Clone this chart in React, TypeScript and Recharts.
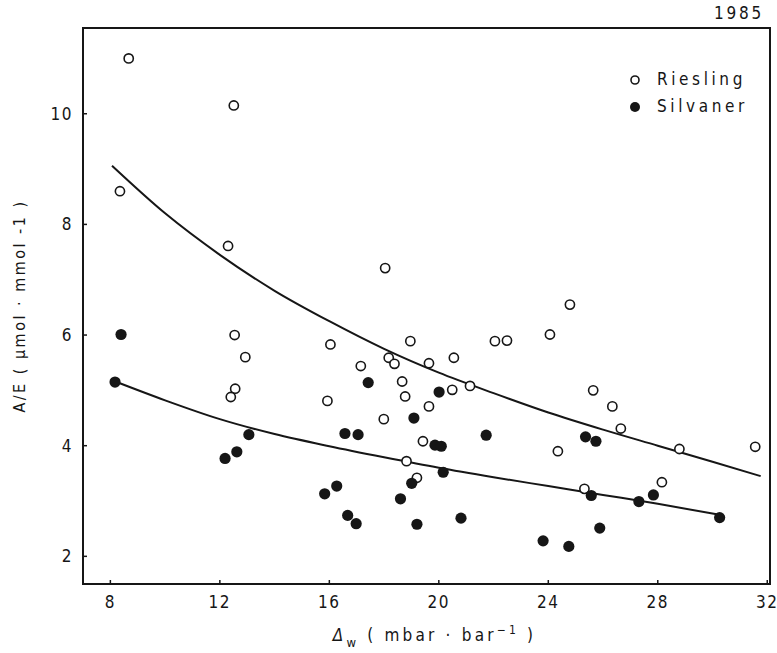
import React from "react";
import {
  ComposedChart,
  Scatter,
  Line,
  XAxis,
  YAxis,
  ReferenceArea,
  Legend,
} from "recharts";

// Riesling (open circles)
const rieslingX = [8.67, 12.51, 8.35, 12.3, 18.04, 12.54, 12.93, 12.56, 12.4, 16.04, 18.96, 22.05, 22.49, 18.17, 18.38, 17.15, 19.64, 20.55, 18.66, 20.49, 21.14, 18.77, 15.93, 19.64, 17.99, 19.42, 18.82, 19.2, 24.79, 24.06, 25.64, 26.34, 26.65, 28.79, 31.56, 24.35, 28.15, 25.32];
const rieslingY = [11.0, 10.15, 8.6, 7.61, 7.21, 6.0, 5.6, 5.03, 4.88, 5.83, 5.89, 5.89, 5.9, 5.59, 5.48, 5.44, 5.49, 5.59, 5.16, 5.01, 5.08, 4.89, 4.81, 4.71, 4.48, 4.08, 3.72, 3.42, 6.55, 6.01, 5.0, 4.71, 4.31, 3.94, 3.98, 3.9, 3.34, 3.22];

// Silvaner (filled circles)
const silvanerX = [8.39, 8.17, 13.06, 12.62, 12.19, 17.42, 20.01, 19.09, 16.57, 17.05, 21.73, 19.86, 20.09, 20.16, 19.01, 16.27, 15.83, 18.6, 16.67, 16.98, 19.2, 20.81, 25.36, 25.74, 25.57, 27.31, 27.84, 30.26, 25.88, 23.81, 24.75];
const silvanerY = [6.01, 5.15, 4.2, 3.89, 3.77, 5.14, 4.97, 4.5, 4.22, 4.2, 4.19, 4.01, 3.99, 3.52, 3.32, 3.27, 3.13, 3.04, 2.74, 2.59, 2.58, 2.69, 4.16, 4.08, 3.1, 2.99, 3.11, 2.7, 2.51, 2.28, 2.18];

// Fitted curves
const rieslingCurveX = [8.06, 10, 12, 14, 16, 18, 20, 22, 24, 26, 28, 30, 31.76];
const rieslingCurveY = [9.06, 8.2, 7.45, 6.8, 6.25, 5.75, 5.32, 4.95, 4.6, 4.29, 4.0, 3.71, 3.45];
const silvanerCurveX = [8.18, 10, 12, 14, 16, 18, 20, 22, 24, 26, 28, 30.26];
const silvanerCurveY = [5.16, 4.82, 4.48, 4.21, 3.99, 3.79, 3.6, 3.43, 3.27, 3.11, 2.95, 2.75];

const xTicks = [8, 12, 16, 20, 24, 28, 32];
const yTicks = [2, 4, 6, 8, 10];

const zip = (xs: number[], ys: number[]) => xs.map((x, i) => ({ x, y: ys[i] }));
const riesling = zip(rieslingX, rieslingY);
const silvaner = zip(silvanerX, silvanerY);
const rieslingCurve = zip(rieslingCurveX, rieslingCurveY);
const silvanerCurve = zip(silvanerCurveX, silvanerCurveY);

const INK = "#161616";
const FONT = "'DejaVu Sans Condensed', 'Liberation Sans Narrow', 'DejaVu Sans', sans-serif";

const OpenDot = (p: any) => (
  <circle cx={p.cx} cy={p.cy} r={4.6} fill="#fff" stroke={INK} strokeWidth={1.6} />
);
const FilledDot = (p: any) => (
  <circle cx={p.cx} cy={p.cy} r={5.6} fill={INK} stroke="none" />
);

const YTick = (p: any) => {
  const { x, y, payload } = p;
  return (
    <g>
      <line x1={x + 9} x2={x + 13} y1={y} y2={y} stroke={INK} strokeWidth={1.5} />
      <text x={x - 1} y={y + 6} textAnchor="end" fontFamily={FONT} fontSize={17} fill={INK} style={{ letterSpacing: 1.5 }}>
        {payload.value}
      </text>
    </g>
  );
};

const XTick = (p: any) => {
  const { x, y, payload } = p;
  return (
    <g>
      <line x1={x} x2={x} y1={y - 9} y2={y - 13} stroke={INK} strokeWidth={1.5} />
      <text x={x} y={y + 15} textAnchor="middle" fontFamily={FONT} fontSize={17} fill={INK} style={{ letterSpacing: 1.5 }}>
        {payload.value}
      </text>
    </g>
  );
};

const XLabel = (p: any) => {
  const vb = p.viewBox || { x: 83, y: 584, width: 687 };
  const cx = vb.x + vb.width / 2 + 8;
  const y = vb.y + 57;
  return (
    <text x={cx} y={y} textAnchor="middle" fontFamily={FONT} fontSize={17} fill={INK} style={{ letterSpacing: 3.2 }}>
      <tspan fontStyle="italic">Δ</tspan>
      <tspan dy={6} fontSize={13}>w</tspan>
      <tspan dy={-6}> ( mbar · bar</tspan>
      <tspan dy={-7} fontSize={12}>−1</tspan>
      <tspan dy={7}> )</tspan>
    </text>
  );
};

const YLabel = (p: any) => {
  const vb = p.viewBox || { x: 23, y: 28, height: 556 };
  const cx = 20;
  const cy = vb.y + vb.height / 2;
  return (
    <text x={cx} y={cy} transform={`rotate(-90, ${cx}, ${cy})`} textAnchor="middle" dominantBaseline="middle" fontFamily={FONT} fontSize={16} fill={INK} style={{ letterSpacing: 2.5 }}>
      A/E ( µmol · mmol -1 )
    </text>
  );
};

const LegendContent = () => (
  <div style={{ fontFamily: FONT, fontSize: 17, color: INK, letterSpacing: 3.6, lineHeight: "27px", textAlign: "left" }}>
    <div style={{ display: "flex", alignItems: "center" }}>
      <svg width={29} height={14}><circle cx={7} cy={7} r={4} fill="#fff" stroke={INK} strokeWidth={1.6} /></svg>
      <span>Riesling</span>
    </div>
    <div style={{ display: "flex", alignItems: "center" }}>
      <svg width={29} height={14}><circle cx={7} cy={7} r={5} fill={INK} /></svg>
      <span>Silvaner</span>
    </div>
  </div>
);

export default function App() {
  return (
    <div style={{ position: "absolute", left: 0, top: 0, width: 777, height: 653, background: "#fff" }}>
      <div style={{ position: "absolute", left: 714, top: 3, fontFamily: FONT, fontSize: 17, color: INK, letterSpacing: 2.8 }}>
        1985
      </div>
      <ComposedChart width={777} height={653} margin={{ top: 28, right: 7, bottom: 39, left: 23 }}>
        <XAxis
          dataKey="x"
          type="number"
          domain={[7, 32.1]}
          ticks={xTicks}
          allowDataOverflow
          height={30}
          tickSize={0}
          tickMargin={9}
          tick={<XTick />}
          axisLine={{ stroke: INK, strokeWidth: 2 }}
          label={<XLabel />}
        />
        <YAxis
          dataKey="y"
          type="number"
          domain={[1.5, 11.55]}
          ticks={yTicks}
          allowDataOverflow
          width={60}
          tickSize={0}
          tickMargin={9}
          tick={<YTick />}
          axisLine={{ stroke: INK, strokeWidth: 2 }}
          label={<YLabel />}
        />
        <ReferenceArea x1={7} x2={32.1} y1={1.5} y2={11.55} fill="none" fillOpacity={0} stroke={INK} strokeWidth={2} ifOverflow="visible" />
        <Line data={rieslingCurve} dataKey="y" type="monotone" dot={false} stroke={INK} strokeWidth={2} isAnimationActive={false} legendType="none" />
        <Line data={silvanerCurve} dataKey="y" type="monotone" dot={false} stroke={INK} strokeWidth={2} isAnimationActive={false} legendType="none" />
        <Scatter name="Riesling" data={riesling} shape={<OpenDot />} isAnimationActive={false} />
        <Scatter name="Silvaner" data={silvaner} shape={<FilledDot />} isAnimationActive={false} />
        <Legend content={<LegendContent />} layout="horizontal" verticalAlign="middle" align="center" wrapperStyle={{ position: "absolute", left: 628, top: 66, width: 145 }} />
      </ComposedChart>
    </div>
  );
}
